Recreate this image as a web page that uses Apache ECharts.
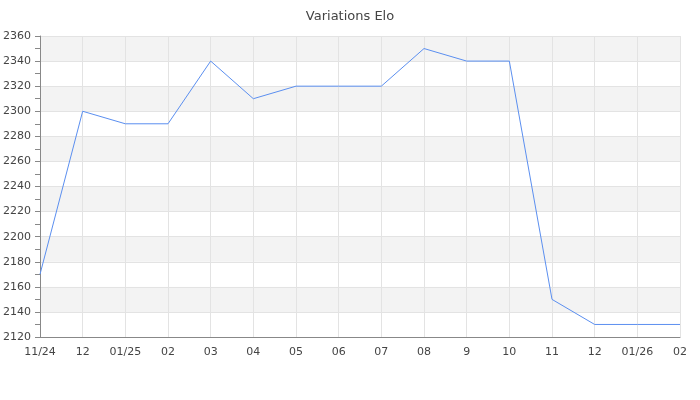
<!DOCTYPE html>
<html><head><meta charset="utf-8">
<script src="https://cdn.jsdelivr.net/npm/echarts@6/dist/echarts.min.js"></script>
<style>html,body{margin:0;padding:0;background:#fff}#c{width:700px;height:400px}</style>
</head><body><div id="c"></div>
<script>
var categories = ['11/24','12','01/25','02','03','04','05','06','07','08','9','10','11','12','01/26','02'];
var elo = [2170,2300,2290,2290,2340,2310,2320,2320,2320,2350,2340,2340,2150,2130,2130,2130];
var chart = echarts.init(document.getElementById('c'), null, {renderer:'canvas'});
chart.setOption({
  animation:false,
  textStyle:{fontFamily:'DejaVu Sans'},
  title:{text:'Variations Elo',left:'center',top:5,textStyle:{fontSize:13,fontWeight:'normal',color:'#444',fontFamily:'DejaVu Sans'}},
  grid:{left:40,right:20,top:36,bottom:63},
  xAxis:{type:'category',data:categories,boundaryGap:false,
    axisLine:{lineStyle:{color:'#888'}},axisTick:{show:false},
    axisLabel:{color:'#444',fontSize:11,margin:10,interval:0},
    splitLine:{show:true,lineStyle:{color:'#e3e3e3'}}},
  yAxis:{type:'value',min:2120,max:2360,interval:20,
    axisLine:{show:true,lineStyle:{color:'#888'}},
    axisTick:{show:true,length:5,lineStyle:{color:'#888'}},
    minorTick:{show:true,splitNumber:2,length:5,lineStyle:{color:'#888'}},
    axisLabel:{color:'#444',fontSize:11,margin:9,formatter:function(v){return String(v);}},
    splitLine:{show:true,lineStyle:{color:'#e3e3e3'}},
    splitArea:{show:true,areaStyle:{color:['#ffffff','#f3f3f3']}}},
  series:[{type:'line',data:elo,showSymbol:false,symbol:'none',lineStyle:{color:'#5b8ff0',width:1}}]
});
</script></body></html>
